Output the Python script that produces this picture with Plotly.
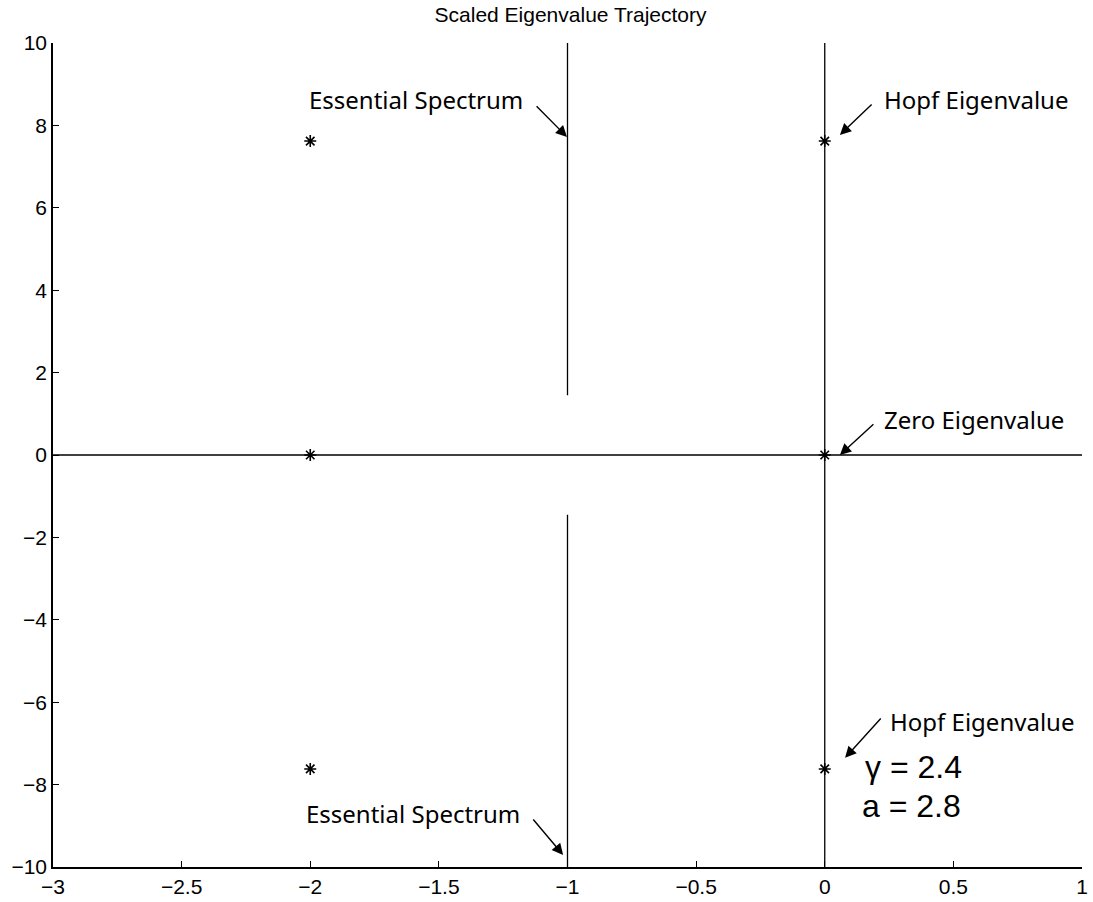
import plotly.graph_objects as go

# Eigenvalues (real, imaginary parts)
eig_re = [-2, -2, -2, 0, 0, 0]
eig_im = [7.62, 0.0, -7.62, 7.62, 0.0, -7.62]

# Essential spectrum: vertical line at Re = -1 with a gap around the real axis
ess_re = -1
ess_gap = 1.45
im_limits = [-10, 10]
re_limits = [-3, 1]

x_ticks = [-3, -2.5, -2, -1.5, -1, -0.5, 0, 0.5, 1]
y_ticks = [-10, -8, -6, -4, -2, 0, 2, 4, 6, 8, 10]

HELV = "Liberation Sans, Arial, sans-serif"
line_style = dict(color="black", width=1.3)

fig = go.Figure()

# real axis
fig.add_trace(go.Scatter(x=re_limits, y=[0, 0], mode="lines", line=line_style,
                         hoverinfo="skip", showlegend=False))
# imaginary axis
fig.add_trace(go.Scatter(x=[0, 0], y=im_limits, mode="lines", line=line_style,
                         hoverinfo="skip", showlegend=False))
# essential spectrum (two segments)
fig.add_trace(go.Scatter(x=[ess_re, ess_re, None, ess_re, ess_re],
                         y=[im_limits[1], ess_gap, None, -ess_gap, im_limits[0]],
                         mode="lines", line=line_style, connectgaps=False,
                         hoverinfo="skip", showlegend=False))
# eigenvalues
fig.add_trace(go.Scatter(x=eig_re, y=eig_im, mode="markers",
                         marker=dict(symbol="asterisk-open", size=10, color="black",
                                     line=dict(color="black", width=1.6)),
                         showlegend=False))

label_font = dict(family="Noto Sans, Open Sans, sans-serif", size=24, color="black")
param_font = dict(family=HELV, size=32, color="black")

# arrows: (head x, head y, tail x, tail y)
arrows = [
    (-1.002, 7.72, -1.126, 8.50),
    (0.059, 7.77, 0.188, 8.54),
    (0.059, 0.0, 0.195, 0.78),
    (0.079, -7.35, 0.223, -6.36),
    (-1.017, -9.71, -1.138, -8.81),
]
for hx, hy, tx, ty in arrows:
    fig.add_annotation(x=hx, y=hy, ax=tx, ay=ty, xref="x", yref="y",
                       axref="x", ayref="y", text="", showarrow=True,
                       arrowhead=2, arrowsize=1.6, arrowwidth=1.4,
                       arrowcolor="black")

labels = [
    ("Essential Spectrum", -1.165, 8.62, "right", label_font),
    ("Hopf Eigenvalue", 0.223, 8.62, "left", label_font),
    ("Zero Eigenvalue", 0.223, 0.87, "left", label_font),
    ("Hopf Eigenvalue", 0.246, -6.48, "left", label_font),
    ("Essential Spectrum", -1.177, -8.71, "right", label_font),
    ("\u03b3 = 2.4", 0.149, -7.57, "left", param_font),
    ("a = 2.8", 0.137, -8.52, "left", param_font),
]
for txt, x, y, anchor, fnt in labels:
    fig.add_annotation(x=x, y=y, xref="x", yref="y", text=txt, showarrow=False,
                       xanchor=anchor, yanchor="middle", font=fnt)

axis_common = dict(showgrid=False, zeroline=False, showline=True, linecolor="black",
                   linewidth=1.5, ticks="inside", ticklen=6, tickwidth=1.2,
                   tickcolor="black",
                   tickfont=dict(family=HELV, size=21, color="black"))

fig.update_layout(
    width=1093, height=902,
    margin=dict(l=53, r=11, t=43, b=35, autoexpand=False),
    paper_bgcolor="white", plot_bgcolor="white",
    title=dict(text="Scaled Eigenvalue Trajectory", x=0.522, xanchor="center",
               y=0.984, yanchor="middle",
               font=dict(family=HELV, size=21, color="black")),
    xaxis=dict(range=re_limits, tickvals=x_ticks,
               ticktext=[f"{v:g}".replace("-", "\u2212") for v in x_ticks],
               **axis_common),
    yaxis=dict(range=im_limits, tickvals=y_ticks,
               ticktext=[f"{v:g}".replace("-", "\u2212") for v in y_ticks],
               **axis_common),
)

fig.write_html("out.html")
